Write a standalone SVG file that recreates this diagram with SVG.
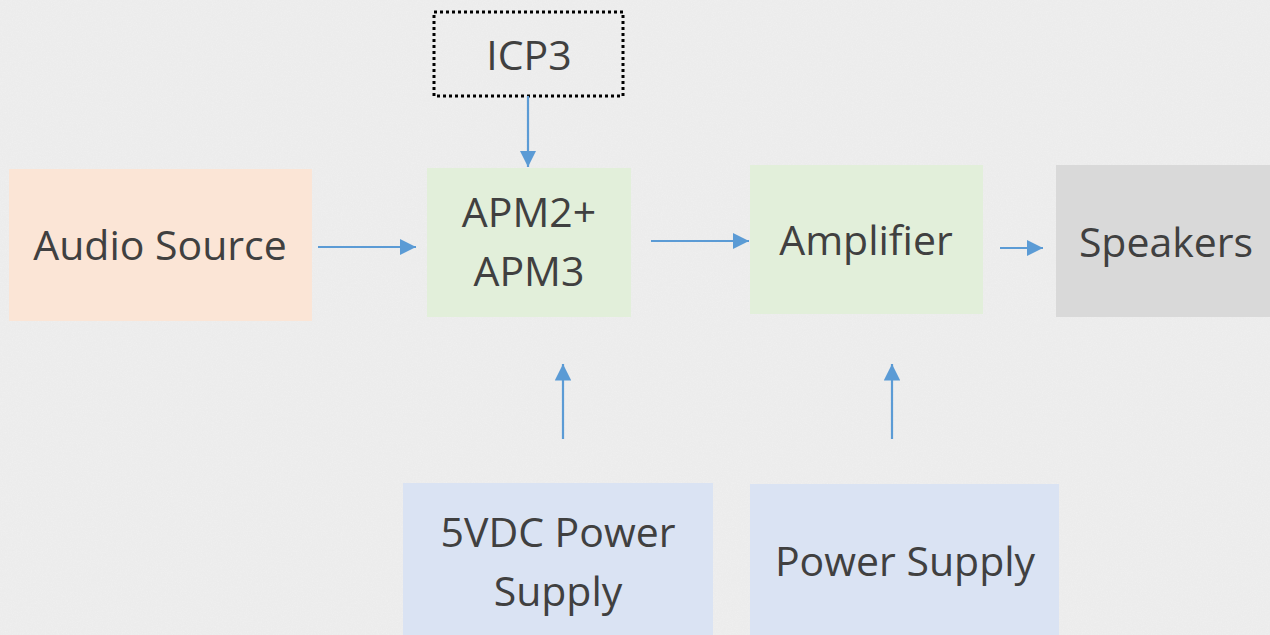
<svg xmlns="http://www.w3.org/2000/svg" width="1270" height="635" viewBox="0 0 1270 635">
<defs>
<marker id="ah" viewBox="0 0 10 10" refX="10" refY="5" markerWidth="7.5" markerHeight="7.5" orient="auto" markerUnits="strokeWidth"><path d="M0,0 L10,5 L0,10 Z" fill="#5b9bd5"/></marker>
<filter id="tex" x="0" y="0" width="100%" height="100%"><feTurbulence type="fractalNoise" baseFrequency="0.8" numOctaves="2" seed="3"/><feColorMatrix type="matrix" values="0 0 0 0 0.93 0 0 0 0 0.93 0 0 0 0 0.93 0 0 0 -0.9 0.55"/></filter>
</defs>
<style>
text{font-family:"Open Sans","Liberation Sans",sans-serif;font-size:41px;fill:#404040;text-anchor:middle}
.c{stroke:#5b9bd5;stroke-width:2.2;fill:none;marker-end:url(#ah)}
</style>
<rect width="1270" height="635" fill="#ececec"/>
<rect width="1270" height="635" filter="url(#tex)" opacity="0.6"/>
<g id="icp3"><rect x="434" y="12" width="189" height="84" fill="none" stroke="#000" stroke-width="3" stroke-dasharray="3,3"/><text x="529" y="70">ICP3</text></g>
<g id="audio"><rect x="9" y="169" width="303" height="152" fill="#fbe5d6"/><text x="160" y="260">Audio Source</text></g>
<g id="apm"><rect x="427" y="168" width="204" height="149" fill="#e2efda"/><text x="529" y="227">APM2+</text><text x="529" y="286">APM3</text></g>
<g id="amp"><rect x="750" y="165" width="233" height="149" fill="#e2efda"/><text x="866" y="255">Amplifier</text></g>
<g id="speakers"><rect x="1056" y="165" width="214" height="152" fill="#d9d9d9"/><text x="1166" y="257">Speakers</text></g>
<g id="psu5"><rect x="403" y="483" width="310" height="152" fill="#dae3f3"/><text x="558" y="547">5VDC Power</text><text x="558" y="606">Supply</text></g>
<g id="psu"><rect x="750" y="484" width="309" height="151" fill="#dae3f3"/><text x="905" y="576">Power Supply</text></g>
<g id="connectors">
<line class="c" x1="528" y1="96" x2="528" y2="167"/>
<line class="c" x1="318" y1="247" x2="416" y2="247"/>
<line class="c" x1="651" y1="241" x2="749" y2="241"/>
<line class="c" x1="1000" y1="248" x2="1043" y2="248"/>
<line class="c" x1="563" y1="439" x2="563" y2="364"/>
<line class="c" x1="892" y1="439" x2="892" y2="364"/>
</g>
</svg>
